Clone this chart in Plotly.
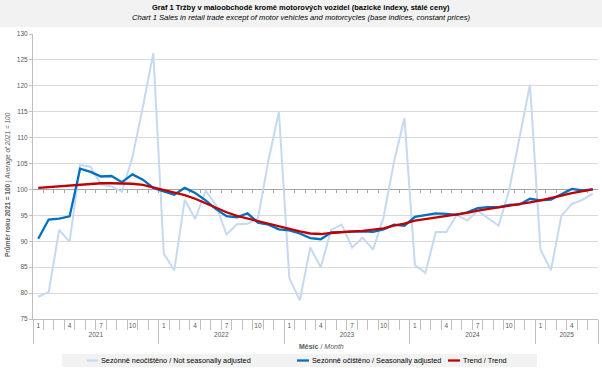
import plotly.graph_objects as go

# ---------------- data ----------------
years = ["2021", "2022", "2023", "2024", "2025"]
months_per_year = [12, 12, 12, 12, 6]
month_ticks = ["1", "4", "7", "10"]

not_seasonally_adjusted = [
    79.3, 80.2, 92.2, 89.9, 104.7, 104.4, 100.9, 100.6, 99.6, 106.2, 115.9, 126.3,
    87.6, 84.4, 98.0, 94.3, 99.8, 96.9, 91.3, 93.3, 93.4, 94.4, 105.6, 115.0,
    82.9, 78.6, 88.8, 85.0, 92.2, 93.2, 88.8, 90.7, 88.4, 94.6, 105.3, 113.8,
    85.4, 83.9, 91.8, 91.8, 95.1, 94.0, 95.9, 94.4, 93.0, 99.8, 110.0, 120.2,
    88.4, 84.4, 94.9, 97.2, 98.0, 99.2,
]
seasonally_adjusted = [
    90.5, 94.2, 94.35, 94.8, 104.0, 103.4, 102.5, 102.6, 101.4, 102.9, 101.9, 100.3,
    99.6, 99.0, 100.3, 99.3, 97.9, 96.2, 94.85, 94.6, 95.4, 93.6, 93.2, 92.3,
    92.1, 91.5, 90.6, 90.4, 91.7, 91.8, 91.9, 91.9, 91.8, 92.3, 93.2, 93.0,
    94.7, 95.1, 95.4, 95.3, 95.1, 95.6, 96.4, 96.6, 96.6, 97.0, 97.1, 98.2,
    97.9, 98.05, 99.0, 100.1, 99.8, 100.0,
]
trend = [
    100.3, 100.45, 100.6, 100.7, 100.9, 101.05, 101.2, 101.2, 101.2, 101.1, 100.9, 100.4,
    99.8, 99.3, 98.9, 98.2, 97.3, 96.4, 95.6, 94.9, 94.4, 93.8, 93.3, 92.8,
    92.3, 91.9, 91.5, 91.4, 91.6, 91.8, 91.9, 92.0, 92.2, 92.5, 93.0, 93.4,
    94.0, 94.3, 94.6, 94.9, 95.1, 95.5, 95.9, 96.2, 96.5, 96.8, 97.1, 97.5,
    97.9, 98.3, 98.8, 99.3, 99.6, 100.0,
]
series_names = [
    "Sezónně neočištěno / Not seasonally adjusted",
    "Sezónně očištěno / Seasonally adjusted",
    "Trend / Trend",
]
y_min, y_max, y_step, base_value = 75, 130, 5, 100

# ---------------- derived positions ----------------
n = len(trend)
x = list(range(n))
month_tickvals, month_ticktext, year_centers, year_bounds = [], [], [], [-0.5]
start = 0
for yr, cnt in zip(years, months_per_year):
    for lab in month_ticks:
        m = int(lab)
        if m <= cnt:
            month_tickvals.append(start + m - 1)
            month_ticktext.append(lab)
    year_centers.append(start + (cnt - 1) / 2)
    start += cnt
    year_bounds.append(start - 0.5)
boundaries = [i - 0.5 for i in range(n + 1)]
xr = [-0.5, n - 0.5]

W, H = 602, 368
L, R, T, B = 33, 4, 34, 49
pw, ph = W - L - R, H - T - B
px2x = lambda p: (p - L) / pw
px2y = lambda p: (H - B - p) / ph

FONT = "Liberation Sans, Arial, sans-serif"
GREY_TXT = "#595959"
colors = ["#c5d9f1", "#0070c0", "#c00000"]
widths = [2, 2.3, 2.3]
axes_for = ["x", "x2", "x3"]

fig = go.Figure()
for vals, name, c, w, ax in zip([not_seasonally_adjusted, seasonally_adjusted, trend],
                                series_names, colors, widths, axes_for):
    fig.add_trace(go.Scatter(x=x, y=vals, mode="lines", name=name, xaxis=ax, yaxis="y",
                             line=dict(color=c, width=w), showlegend=False,
                             hoverinfo="skip"))

fig.update_layout(
    width=W, height=H,
    margin=dict(l=L, r=R, t=T, b=B),
    paper_bgcolor="white", plot_bgcolor="white",
    font=dict(family=FONT, color=GREY_TXT, size=7),
    xaxis=dict(range=xr, showgrid=False, zeroline=False, automargin=False,
               showline=True, linecolor="#bfbfbf", linewidth=1,
               tickmode="array", tickvals=month_tickvals, ticktext=month_ticktext,
               ticks="", ticklabelstandoff=0,
               tickfont=dict(size=6.5, color=GREY_TXT),
               minor=dict(tickmode="array", tickvals=boundaries, ticks="outside",
                          ticklen=10, tickcolor="#bfbfbf", tickwidth=1, showgrid=False)),
    xaxis2=dict(range=xr, overlaying="x", anchor="free", automargin=False,
                position=(base_value - y_min) / (y_max - y_min),
                showgrid=False, zeroline=False, showline=True, linecolor="#a6a6a6",
                linewidth=1, layer="below traces",
                tickmode="array", tickvals=boundaries[1:-1], ticks="outside",
                ticklen=3, tickcolor="#a6a6a6", showticklabels=False),
    xaxis3=dict(range=xr, overlaying="x", anchor="free", position=0, automargin=False,
                showgrid=False, zeroline=False, showline=False,
                tickmode="array", tickvals=year_centers, ticktext=years,
                ticks="", ticklabelstandoff=10,
                tickfont=dict(size=6.5, color=GREY_TXT),
                minor=dict(tickmode="array", tickvals=year_bounds, ticks="outside",
                           ticklen=24, tickcolor="#bfbfbf", tickwidth=1, showgrid=False)),
    yaxis=dict(range=[y_min, y_max], dtick=y_step, tick0=y_min, automargin=False,
               showgrid=True, gridcolor="#d9d9d9", gridwidth=1, zeroline=False,
               showline=True, linecolor="#bfbfbf", ticks="outside", ticklen=3,
               tickcolor="#bfbfbf", tickfont=dict(size=6.5, color=GREY_TXT)),
)

shapes = [
    # title band
    dict(type="rect", xref="paper", yref="paper", x0=px2x(0), x1=px2x(W),
         y0=px2y(27), y1=px2y(0), fillcolor="#f2f2f2", line=dict(width=0), layer="below"),
    # legend band
    dict(type="rect", xref="paper", yref="paper", x0=px2x(62), x1=px2x(537),
         y0=px2y(367), y1=px2y(354), fillcolor="#f2f2f2", line=dict(width=0), layer="below"),
]
leg_line_px = [(87, 98), (297, 309), (448, 460)]
annotations = [
    dict(text="<b>Graf 1 Tržby v maloobchodě kromě motorových vozidel (bazické indexy, stálé ceny)</b>",
         x=px2x(301), y=px2y(8), xref="paper", yref="paper", showarrow=False,
         font=dict(size=7.5, color="#000000"), xanchor="center", yanchor="middle"),
    dict(text="<i>Chart 1 Sales in retail trade except of motor vehicles and motorcycles (base indices, constant prices)</i>",
         x=px2x(301), y=px2y(17.5), xref="paper", yref="paper", showarrow=False,
         font=dict(size=7.6, color="#000000"), xanchor="center", yanchor="middle"),
    dict(text="<b>Průměr roku 2021 = 100</b> | <i>Average of 2021 = 100</i>",
         x=px2x(8), y=px2y(185), xref="paper", yref="paper", showarrow=False,
         textangle=-90, font=dict(size=6.5, color=GREY_TXT), xanchor="center", yanchor="middle"),
    dict(text="<b>Měsíc</b> / <i>Month</i>",
         x=px2x(321), y=px2y(346), xref="paper", yref="paper", showarrow=False,
         font=dict(size=7, color=GREY_TXT), xanchor="center", yanchor="middle"),
]
for (a, b), name, c, w in zip(leg_line_px, series_names, colors, widths):
    shapes.append(dict(type="line", xref="paper", yref="paper", x0=px2x(a), x1=px2x(b),
                       y0=px2y(360.5), y1=px2y(360.5), line=dict(color=c, width=w)))
    annotations.append(dict(text=name, x=px2x(b + 1), y=px2y(360.5), xref="paper", yref="paper",
                            showarrow=False, xanchor="left", yanchor="middle",
                            font=dict(size=7.3, color="#000000")))
fig.update_layout(shapes=shapes, annotations=annotations)

fig.write_html("out.html", config={"displayModeBar": False, "staticPlot": True},
               post_script="document.body.style.margin='0px';")
